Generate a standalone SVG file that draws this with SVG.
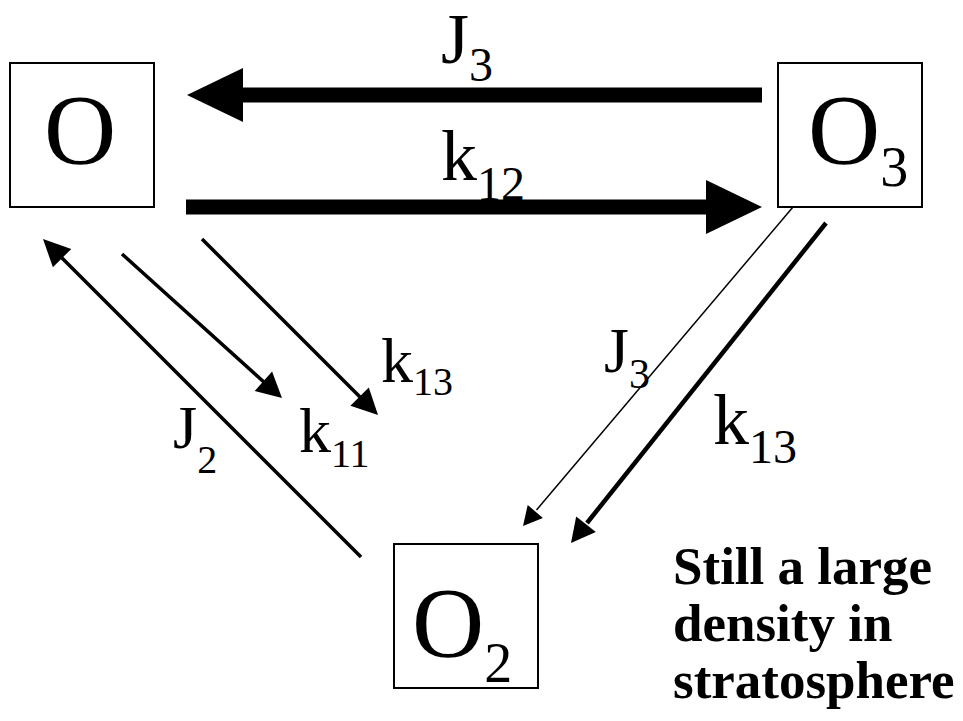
<svg xmlns="http://www.w3.org/2000/svg" width="963" height="721" viewBox="0 0 963 721">
<style>
.box{fill:#fff;stroke:#000;stroke-width:2}
text{fill:#000}
.ln{stroke:#000;fill:none;stroke-linecap:butt}
.hd{fill:#000;stroke:none}
.note{font-weight:bold;font-size:53px}
</style>
<rect width="963" height="721" fill="#fff"/>
<g id="connectors">
  <g id="J3-top">
    <line class="ln" x1="762" y1="95" x2="240" y2="95" stroke-width="15"/>
    <polygon class="hd" points="187,95 243,68 243,122"/>
  </g>
  <g id="k12">
    <line class="ln" x1="186" y1="207" x2="709" y2="207" stroke-width="15"/>
    <polygon class="hd" points="762,207 706,180 706,234"/>
  </g>
  <g id="J2">
    <line class="ln" x1="361" y1="557" x2="60" y2="256" stroke-width="3.5"/>
    <polygon class="hd" points="43,239 71.3,248.9 52.9,267.3"/>
  </g>
  <g id="k11">
    <line class="ln" x1="122" y1="254" x2="265" y2="383" stroke-width="3.5"/>
    <polygon class="hd" points="282,398 254.7,391 272.1,371.6"/>
  </g>
  <g id="k13-left">
    <line class="ln" x1="202" y1="239" x2="361" y2="398" stroke-width="3.5"/>
    <polygon class="hd" points="378,415 350.4,405.8 368.8,387.4"/>
  </g>
  <g id="J3-diag">
    <line class="ln" x1="793" y1="207" x2="536.5" y2="510" stroke-width="1.5"/>
    <polygon class="hd" points="523,526 527.7,505 542.9,518"/>
  </g>
  <g id="k13-right">
    <line class="ln" x1="826" y1="223" x2="587" y2="523" stroke-width="4.5"/>
    <polygon class="hd" points="571,543 576.2,516.4 595.8,532"/>
  </g>
</g>
<g font-family="Liberation Serif, Times New Roman, serif">
<g id="node-O">
  <rect class="box" x="10" y="63" width="144" height="144"/>
  <text x="44" y="163" font-size="100" font-family="Liberation Serif, serif">O</text>
</g>
<g id="node-O3">
  <rect class="box" x="778" y="63" width="144" height="144"/>
  <text x="808" y="163" font-size="100" font-family="Liberation Serif, serif">O<tspan font-size="56" dy="23">3</tspan></text>
</g>
<g id="node-O2">
  <rect class="box" x="394" y="544" width="144" height="144"/>
  <text x="412" y="656" font-size="100" font-family="Liberation Serif, serif">O<tspan font-size="56" dy="26">2</tspan></text>
</g>
<g id="labels" font-family="Liberation Serif, serif">
  <text x="441" y="63" font-size="72">J<tspan font-size="48" dy="18">3</tspan></text>
  <text x="441" y="180" font-size="72">k<tspan font-size="48" dy="20">12</tspan></text>
  <text x="381" y="382" font-size="64">k<tspan font-size="40" dy="13">13</tspan></text>
  <text x="299" y="452" font-size="64">k<tspan font-size="40" dy="15">11</tspan></text>
  <text x="173" y="448" font-size="62">J<tspan font-size="40" dy="25">2</tspan></text>
  <text x="604" y="372" font-size="64">J<tspan font-size="42" dy="16">3</tspan></text>
  <text x="713" y="444" font-size="72">k<tspan font-size="48" dy="19">13</tspan></text>
</g>
<g id="note" font-family="Liberation Serif, serif">
  <text class="note" x="673" y="584">Still a large</text>
  <text class="note" x="673" y="641">density in</text>
  <text class="note" x="673" y="698">stratosphere</text>
</g>
</g>
</svg>
